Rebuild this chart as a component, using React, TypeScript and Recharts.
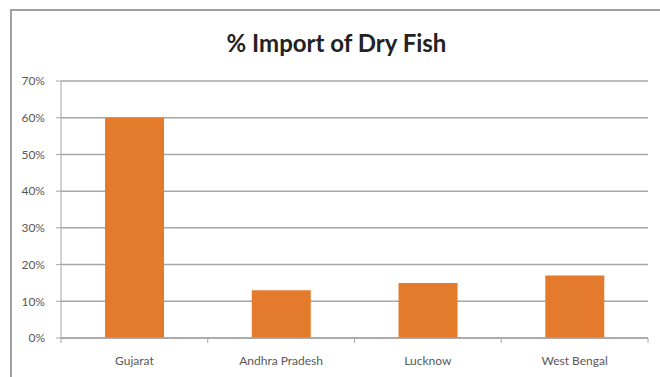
import { BarChart, Bar, XAxis, YAxis, CartesianGrid } from 'recharts';

const regions = ['Gujarat', 'Andhra Pradesh', 'Lucknow', 'West Bengal'];
const importShare = [60, 13, 15, 17];
const yTicks = [0, 10, 20, 30, 40, 50, 60, 70];

const data = regions.map((name, i) => ({ name, value: importShare[i] }));

const FONT = 'Lato, "Open Sans", sans-serif';
const AXIS = '#a6a6a6';
const PLOT_LEFT = 61;
const PLOT_RIGHT = 648;
const BAND = (PLOT_RIGHT - PLOT_LEFT) / regions.length;
const X_TICK_GAP = 18;

// ticks sit on the category boundaries, like Excel does
function CategoryTick(props: any) {
  const { x, y, payload, index } = props;
  const left = x - BAND / 2;
  const right = x + BAND / 2;
  const top = y - X_TICK_GAP;
  return (
    <g>
      <line x1={left} y1={top} x2={left} y2={top + 5} stroke={AXIS} />
      {index === regions.length - 1 && (
        <line x1={right} y1={top} x2={right} y2={top + 5} stroke={AXIS} />
      )}
      <text x={x} y={y} dy="0.71em" textAnchor="middle" fill="#595959" fontSize={12} fontFamily={FONT}>
        {payload.value}
      </text>
    </g>
  );
}

export default function App() {
  return (
    <div style={{ position: 'absolute', left: 0, top: 0, width: 660, height: 377, overflow: 'hidden', background: '#fff' }}>
      <div
        style={{
          position: 'absolute',
          left: 10,
          top: 9,
          width: 700,
          height: 420,
          borderLeft: '2px solid #a0a0a0',
          borderTop: '2px solid #a0a0a0',
        }}
      />
      <div
        style={{
          position: 'absolute',
          left: 0,
          top: 28,
          width: 673,
          textAlign: 'center',
          fontFamily: FONT,
          fontWeight: 700,
          fontSize: 24,
          color: '#222',
        }}
      >
        % Import of Dry Fish
      </div>
      <div style={{ position: 'absolute', left: 0, top: 0 }}>
        <BarChart
          width={660}
          height={377}
          data={data}
          margin={{ top: 81, right: 660 - PLOT_RIGHT, bottom: 9, left: 0 }}
          barCategoryGap="30%"
        >
          <CartesianGrid horizontal vertical={false} stroke={AXIS} strokeWidth={1.5} />
          <YAxis
            width={PLOT_LEFT}
            domain={[0, 70]}
            ticks={yTicks}
            interval={0}
            tickFormatter={(v: number) => `${v}%`}
            tick={{ fill: '#595959', fontSize: 12, fontFamily: FONT }}
            axisLine={{ stroke: AXIS }}
            tickLine={{ stroke: AXIS }}
            tickSize={5}
            tickMargin={11}
          />
          <XAxis
            dataKey="name"
            height={30}
            interval={0}
            axisLine={{ stroke: AXIS, strokeWidth: 1.5 }}
            tickLine={false}
            tickSize={0}
            tickMargin={X_TICK_GAP}
            tick={<CategoryTick />}
          />
          <Bar dataKey="value" fill="#e47a2b" isAnimationActive={false} />
        </BarChart>
      </div>
    </div>
  );
}
